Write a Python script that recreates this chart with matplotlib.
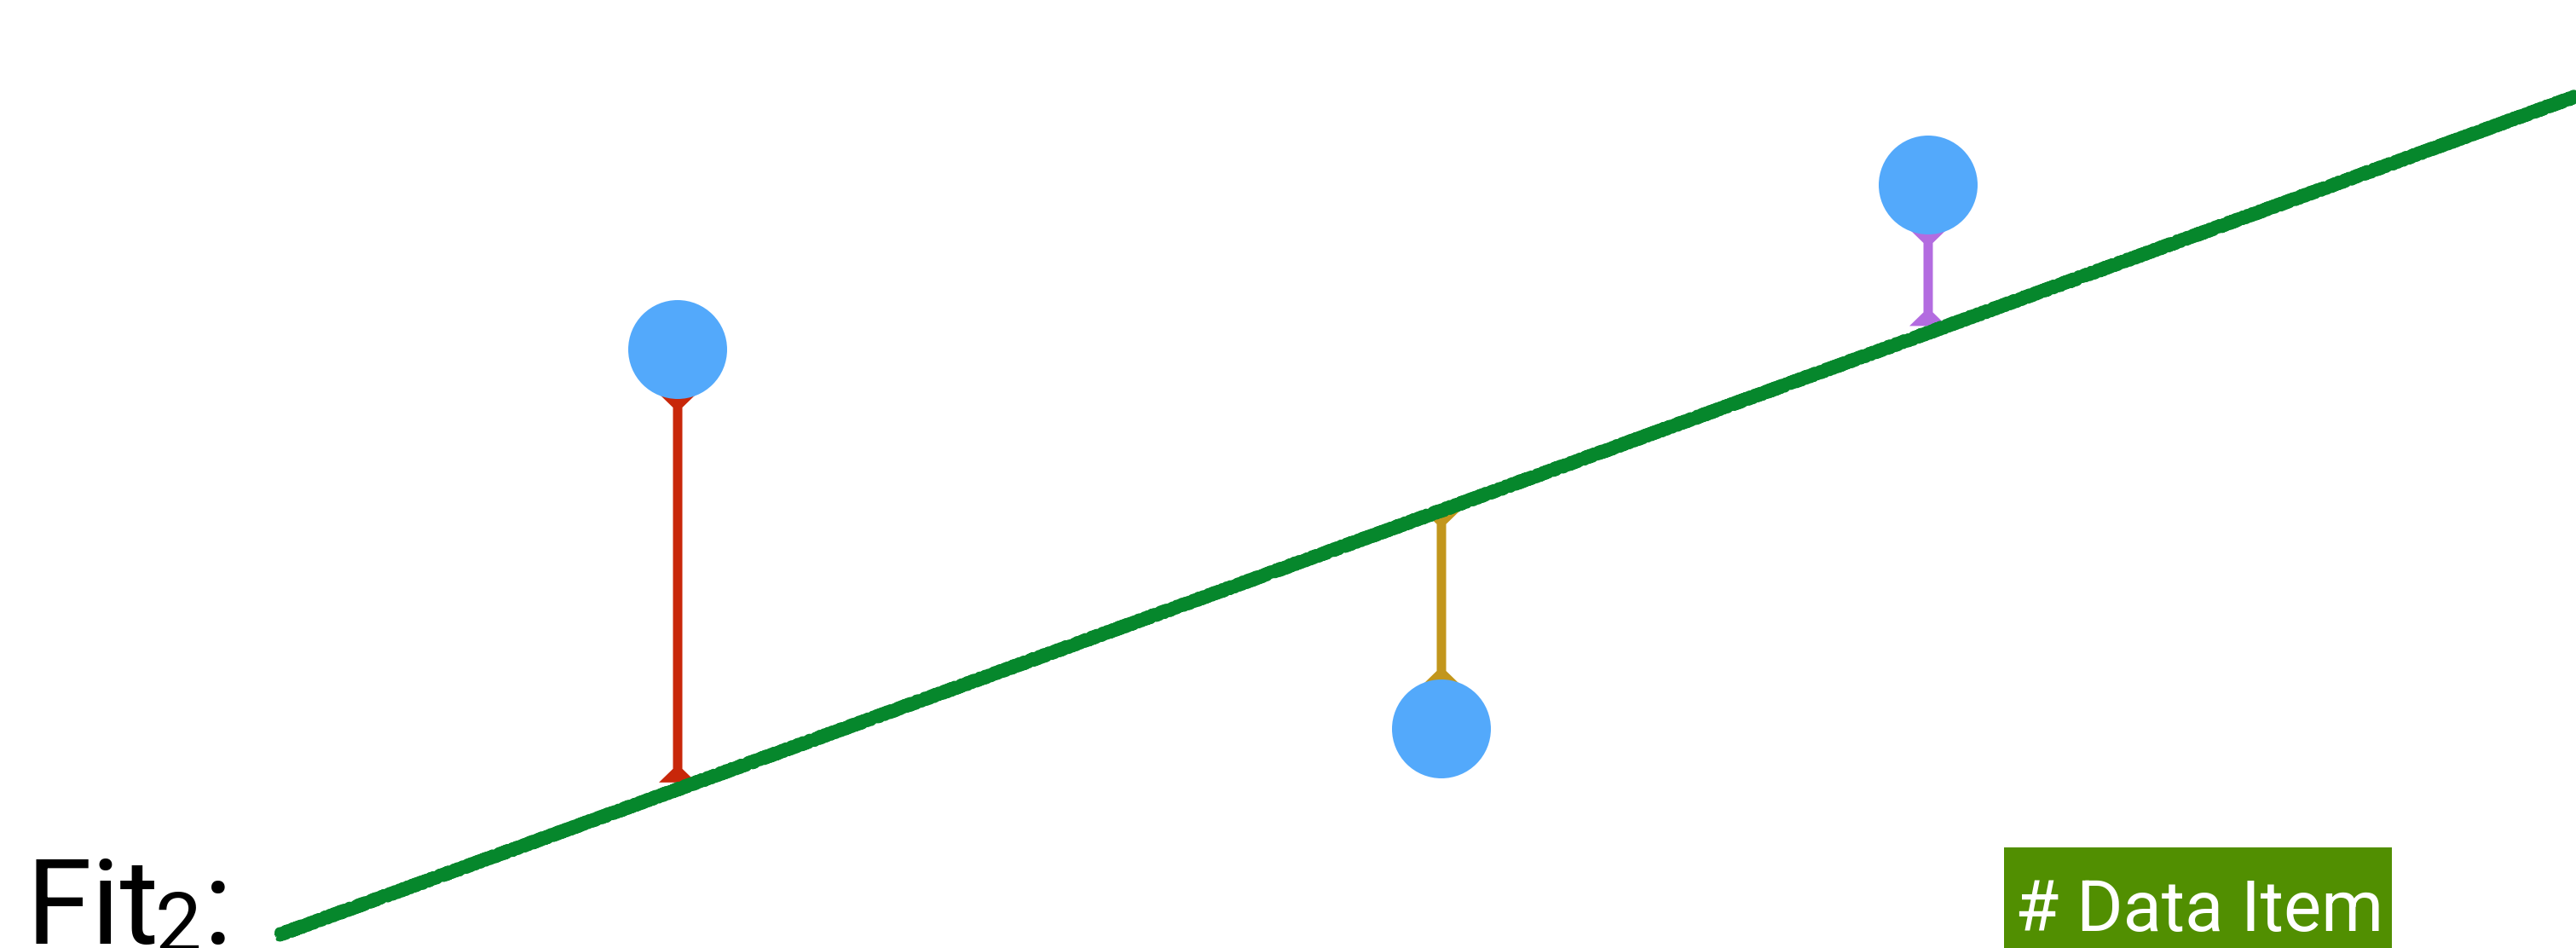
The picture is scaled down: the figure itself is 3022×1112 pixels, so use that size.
import numpy as np
import matplotlib.pyplot as plt
from matplotlib.patches import Circle, Polygon, Rectangle

# data points (x, y) and the fitted line y = slope * x + intercept
point_x = [7.95, 16.91, 22.62]
point_y = [7.02, 2.57, 8.95]
residual_colors = ['#C8270A', '#C2961C', '#B36CE0']
fit_slope = 0.365
fit_intercept = -1.04
fit_x_range = [3.26, 30.22]

point_color = '#53A9FB'
fit_color = '#06872C'
label_text = '# Data Item'
title_main = 'Fit'
title_sub = '2'

W, H = 3022, 1112
fig = plt.figure(figsize=(W / 100, H / 100), dpi=100)
ax = fig.add_axes([0, 0, 1, 1])
ax.set_xlim(0, W / 100)
ax.set_ylim(0, H / 100)
ax.axis('off')

# fitted line, drawn rough like chalk
fx = np.array(fit_x_range)
fy = fit_slope * fx + fit_intercept
for lw, alpha, sk in [(9.5, 1.0, (2.0, 5, 3)), (8.0, 1.0, (3.0, 4, 4)), (4.5, 0.9, (4.0, 3, 5))]:
    ln, = ax.plot(fx, fy, color=fit_color, lw=lw, alpha=alpha, solid_capstyle='butt', zorder=3)
    ln.set_sketch_params(*sk)

radius = 0.58
shaft = 0.055
flare = 0.22
flare_len = 0.16


def residual(x, y_from, y_to, color):
    # vertical bar with flared ends, y_from < y_to
    pts = [(x - flare, y_from), (x + flare, y_from), (x + shaft, y_from + flare_len),
           (x + shaft, y_to - flare_len), (x + flare, y_to), (x - flare, y_to),
           (x - shaft, y_to - flare_len), (x - shaft, y_from + flare_len)]
    ax.add_patch(Polygon(pts, closed=True, color=color, lw=0, zorder=2))


for x, y, c in zip(point_x, point_y, residual_colors):
    yl = fit_slope * x + fit_intercept
    if y > yl:
        residual(x, yl + 0.08, y - radius + 0.06, c)
    else:
        residual(x, y + radius - 0.06, yl, c)
    ax.add_patch(Circle((x, y), radius, color=point_color, lw=0, zorder=4))

# title on the left: "Fit", subscript "2", then ":"
font = 'Roboto'
renderer = fig.canvas.get_renderer()
t1 = fig.text(30 / W, (H - 1107) / H, title_main, fontsize=100, family=font,
              color='black', va='baseline', ha='left')
x_end = t1.get_window_extent(renderer).x1
t2 = fig.text((x_end - 4) / W, (H - 1116) / H, title_sub, fontsize=70, family=font,
              color='black', va='baseline', ha='left')
x_end = t2.get_window_extent(renderer).x1
fig.text((x_end + 2) / W, (H - 1107) / H, ':', fontsize=100, family=font,
         color='black', va='baseline', ha='left')

# green label box
fig.patches.append(Rectangle((2351 / W, 0), (2806 - 2351) / W, (H - 994) / H,
                             transform=fig.transFigure, color='#518F01', lw=0, zorder=1))
fig.text(2364 / W, (H - 1092) / H, label_text, fontsize=60, family=font,
         color='white', va='baseline', ha='left', zorder=2)

fig.savefig('out.png', dpi=100)
